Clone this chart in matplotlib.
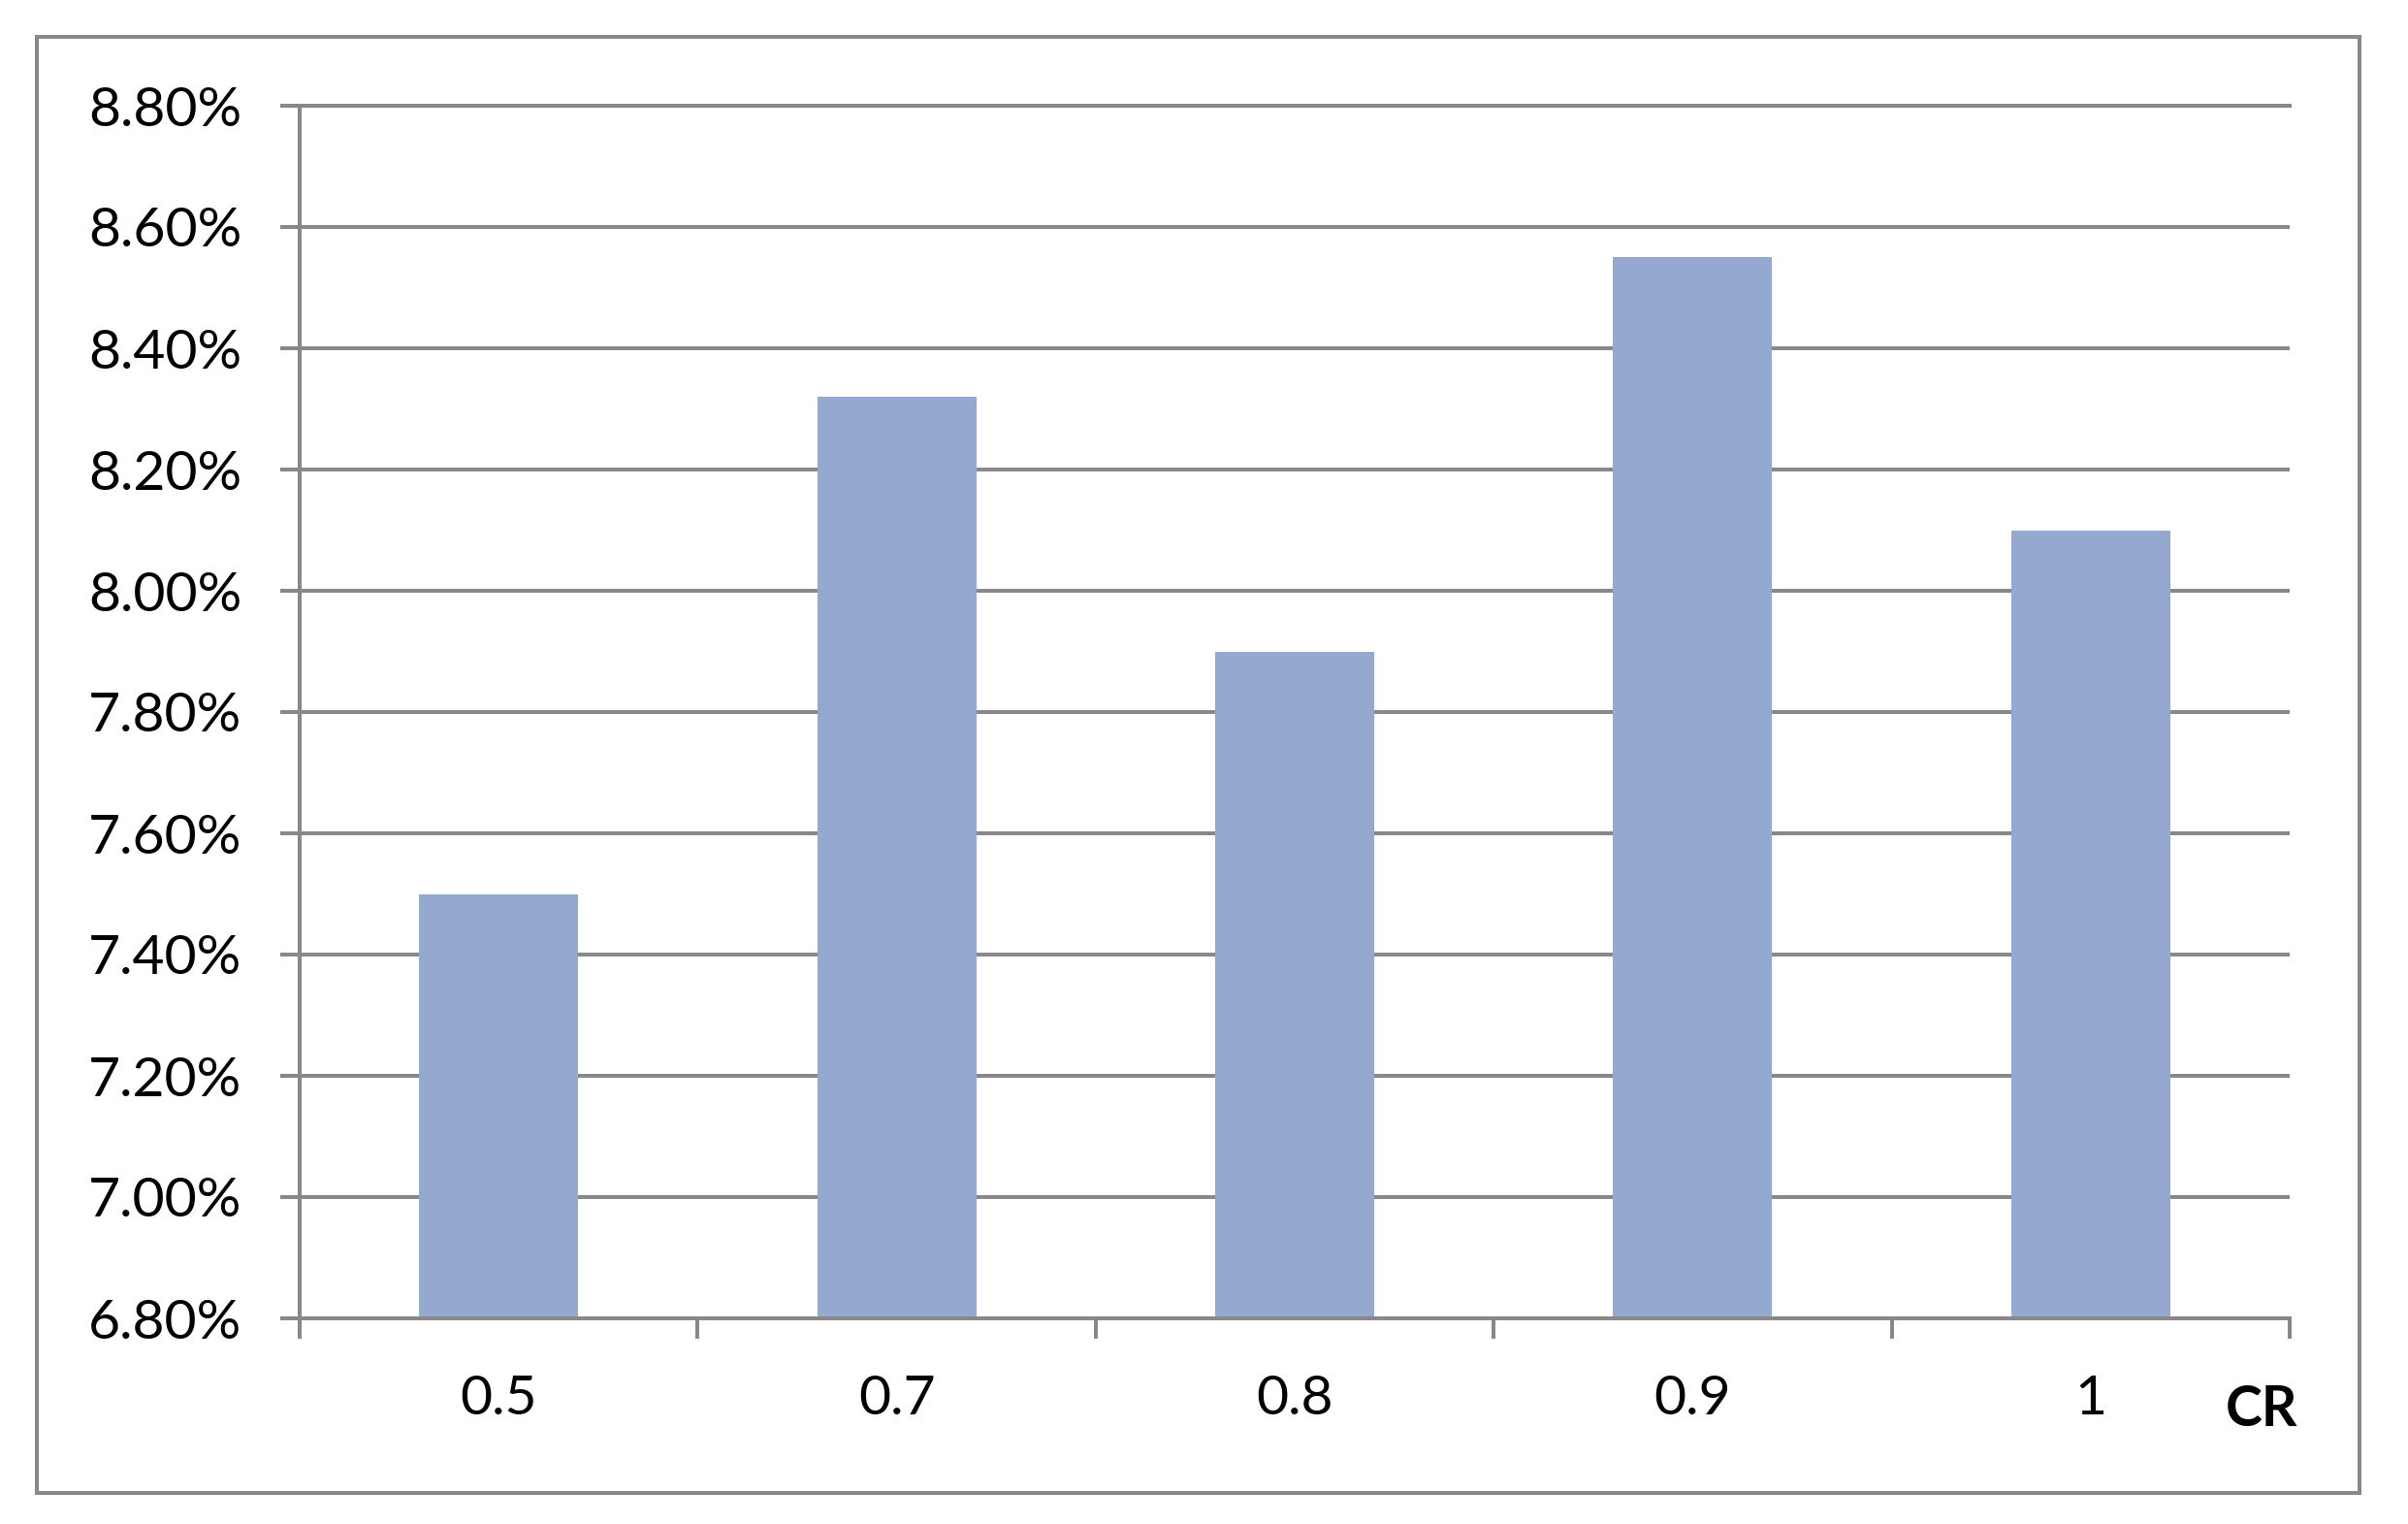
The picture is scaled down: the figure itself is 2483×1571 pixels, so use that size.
import matplotlib
matplotlib.use("Agg")
import matplotlib.pyplot as plt
from matplotlib.ticker import FixedLocator, FuncFormatter
from matplotlib.patches import Rectangle

categories = ["0.5", "0.7", "0.8", "0.9", "1"]
values = [7.50, 8.32, 7.90, 8.55, 8.10]
y_ticks = [6.8, 7.0, 7.2, 7.4, 7.6, 7.8, 8.0, 8.2, 8.4, 8.6, 8.8]
x_title = "CR"

GRAY = "#888888"
BAR = "#95A9D0"
DPI = 100
W, H = 2483, 1571

plt.rcParams['font.family'] = ['Lato', 'DejaVu Sans']

fig = plt.figure(figsize=(W / DPI, H / DPI), dpi=DPI)
fig.patch.set_facecolor("white")

def px(v):
    return v * 72.0 / DPI

left, right, top, bottom = 309, 2361, 109, 1359
ax = fig.add_axes([left / W, 1 - bottom / H, (right - left) / W, (bottom - top) / H])

xs = list(range(len(categories)))
ax.bar(xs, values, width=0.4, color=BAR, zorder=2, bottom=0)
ax.set_xlim(-0.5, len(categories) - 0.5)
ax.set_ylim(y_ticks[0], y_ticks[-1])

ax.set_axisbelow(True)
ax.yaxis.set_major_locator(FixedLocator(y_ticks))
ax.yaxis.set_major_formatter(FuncFormatter(lambda v, p: f"{v:.2f}%"))
ax.grid(axis="y", color=GRAY, linewidth=px(4))
ax.grid(axis="x", visible=False)

ax.set_xticks(xs)
ax.set_xticklabels(categories)
ax.set_xticks([i - 0.5 for i in range(len(categories) + 1)], minor=True)

ax.spines["right"].set_visible(False)
for s in ["left", "bottom", "top"]:
    ax.spines[s].set_color(GRAY)
    ax.spines[s].set_linewidth(px(4))
    ax.spines[s].set_zorder(3)

ax.tick_params(axis="y", which="major", length=px(20), width=px(4), color=GRAY,
               labelsize=41, pad=px(40), labelcolor="black")
ax.tick_params(axis="x", which="major", length=0, labelsize=41, pad=px(58),
               labelcolor="black")
ax.tick_params(axis="x", which="minor", length=px(21), width=px(4), color=GRAY)

# axis title "CR"
fig.text(2332 / W, 1 - 1453 / H, x_title, fontsize=41, fontweight="bold",
         ha="center", va="center")

# outer frame
frame = Rectangle((38 / W, 1 - 1539 / H), (2433 - 38) / W, (1539 - 38) / H,
                  transform=fig.transFigure, fill=False, edgecolor=GRAY,
                  linewidth=px(4))
fig.patches.append(frame)

fig.savefig("out.png", dpi=DPI, facecolor="white")
